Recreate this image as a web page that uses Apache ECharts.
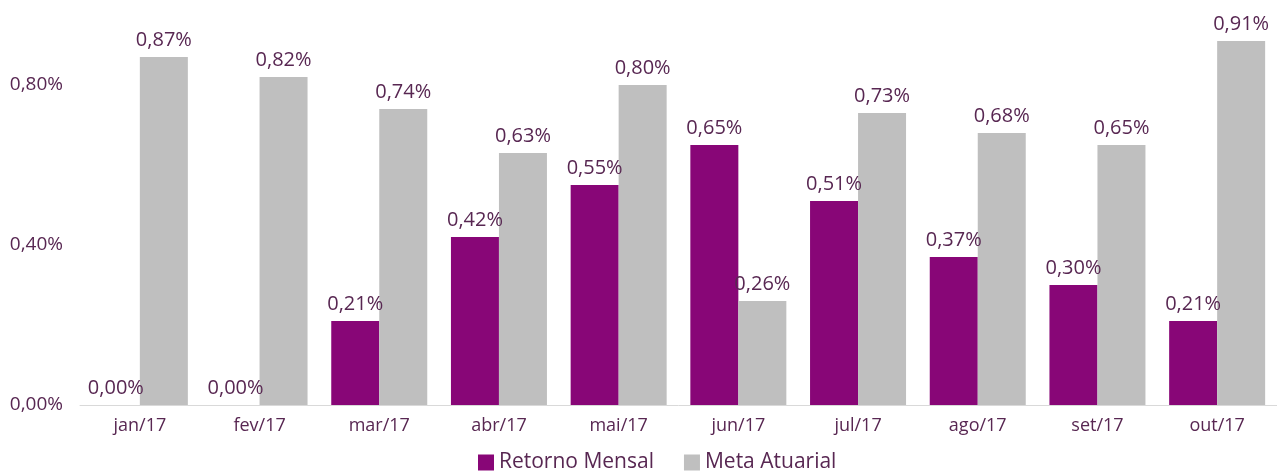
<!DOCTYPE html>
<html>
<head>
<meta charset="utf-8">
<script src="https://cdn.jsdelivr.net/npm/echarts@6/dist/echarts.min.js"></script>
<style>
	html, body { margin: 0; padding: 0; background: #fff; }
	#chart-1 { width: 1277px; height: 474px; }
</style>
</head>
<body>
<div id="chart-1"></div>
<script>
var meses = ['jan/17', 'fev/17', 'mar/17', 'abr/17', 'mai/17', 'jun/17', 'jul/17', 'ago/17', 'set/17', 'out/17'];
var retornoMensal = [0.00, 0.00, 0.21, 0.42, 0.55, 0.65, 0.51, 0.37, 0.30, 0.21];
var metaAtuarial = [0.87, 0.82, 0.74, 0.63, 0.80, 0.26, 0.73, 0.68, 0.65, 0.91];

var corTexto = '#582752';

function pct(v) {
	return v.toFixed(2).replace('.', ',') + '%';
}

var myChart = echarts.init(document.getElementById('chart-1'));

var option = {
	animation: false,
	textStyle: {
		fontFamily: 'Open Sans'
	},
	grid: {
		left: 80,
		right: -6,
		top: 5,
		bottom: 69
	},
	legend: {
		bottom: -4,
		left: 473,
		itemWidth: 16,
		itemHeight: 16,
		itemGap: 30,
		icon: 'rect',
		textStyle: {
			color: corTexto,
			fontSize: 21
		},
		data: ['Retorno Mensal', 'Meta Atuarial']
	},
	xAxis: {
		type: 'category',
		data: meses,
		axisLine: {
			lineStyle: { color: '#d9d9d9' }
		},
		axisTick: {
			length: 5,
			lineStyle: { color: '#d9d9d9' }
		},
		axisLabel: {
			color: corTexto,
			fontSize: 18,
			margin: 12
		}
	},
	yAxis: {
		type: 'value',
		min: 0,
		max: 1.0,
		interval: 0.4,
		splitLine: { show: false },
		axisLine: { show: false },
		axisTick: { show: false },
		axisLabel: {
			color: corTexto,
			fontSize: 19,
			margin: 17,
			showMaxLabel: false,
			formatter: function(v) {
				return v > 0.9 ? '' : pct(v);
			}
		}
	},
	series: [{
		name: 'Retorno Mensal',
		type: 'bar',
		barWidth: 48,
		barGap: '0%',
		itemStyle: { color: '#880677' },
		label: {
			show: true,
			position: 'top',
			distance: 7,
			color: corTexto,
			fontSize: 20,
			formatter: function(p) { return pct(p.value); }
		},
		data: retornoMensal
	}, {
		name: 'Meta Atuarial',
		type: 'bar',
		barWidth: 48,
		barGap: '0%',
		itemStyle: { color: '#bfbfbf' },
		label: {
			show: true,
			position: 'top',
			distance: 7,
			color: corTexto,
			fontSize: 20,
			formatter: function(p) { return pct(p.value); }
		},
		data: metaAtuarial
	}]
};

myChart.setOption(option);
</script>
</body>
</html>
